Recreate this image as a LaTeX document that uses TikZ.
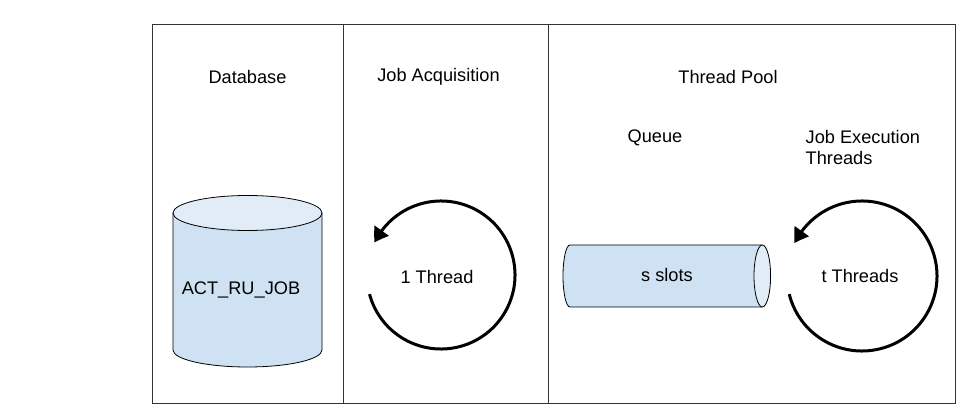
\documentclass[tikz,border=0pt]{standalone}
\usepackage{fontspec}
\setmainfont{Liberation Sans}
\usetikzlibrary{arrows.meta,bending}
\definecolor{bodyblue}{HTML}{CFE2F3}
\definecolor{capblue}{HTML}{E2ECF7}
\definecolor{edge}{HTML}{333333}
\tikzset{
  lbl/.style={inner sep=0pt, font=\fontsize{18.2}{21}\selectfont},
  frame/.style={draw=edge, line width=1pt},
  shapeline/.style={draw=black, line width=0.8pt},
  cyclearrow/.style={draw=black, line width=3pt, -{Triangle[length=14pt,width=17pt,bend]}}
}
\begin{document}
\begin{tikzpicture}[x=1pt,y=1pt]
\useasboundingbox (0,0) rectangle (975,-411);
% frame
\draw[frame] (152.7,-24.3) rectangle (955,-403.3);
\draw[frame] (343.3,-24.3) -- (343.3,-403.3);
\draw[frame] (548.7,-24.3) -- (548.7,-403.3);
% headings
\node[lbl] (db) at (247.5,-77) {Database};
\node[lbl] (ja) at (438.5,-77) {Job Acquisition};
\node[lbl] (tp) at (728,-77) {Thread Pool};
\node[lbl] (qu) at (655,-138) {Queue};
\node[lbl, anchor=west, align=left] (jet) at (805.5,-147.5) {Job Execution\\Threads};
% database cylinder
\path[fill=bodyblue] (173,-213) -- (173,-350) arc[start angle=180, end angle=360, x radius=74.5, y radius=17] -- (322,-213) -- cycle;
\draw[shapeline] (173,-213) -- (173,-350) arc[start angle=180, end angle=360, x radius=74.5, y radius=17] -- (322,-213);
\draw[shapeline, fill=capblue] (247.5,-213) ellipse[x radius=74.5, y radius=17.5];
\node[lbl] (tbl) at (241,-290) {ACT\_RU\_JOB};
% acquisition loop
\coordinate (acqc) at (441,-275);
\draw[cyclearrow] ([shift={(195:74)}]acqc) arc[start angle=195, end angle=514, radius=74];
\node[lbl] (acq) at (437,-277) {1 Thread};
% queue
\path[fill=bodyblue] (570,-245) -- (762,-245) -- (762,-307) -- (570,-307) arc[start angle=270, end angle=90, x radius=7, y radius=31] -- cycle;
\draw[shapeline] (762,-245) -- (570,-245) arc[start angle=90, end angle=270, x radius=7, y radius=31] -- (762,-307);
\draw[shapeline, fill=capblue] (762.3,-276) ellipse[x radius=8.3, y radius=31];
\node[lbl] (slots) at (667,-275) {s slots};
% execution loop
\coordinate (exc) at (862,-276);
\draw[cyclearrow] ([shift={(194:75)}]exc) arc[start angle=194, end angle=514, radius=75];
\node[lbl] (thr) at (860,-276) {t Threads};
\end{tikzpicture}
\end{document}
